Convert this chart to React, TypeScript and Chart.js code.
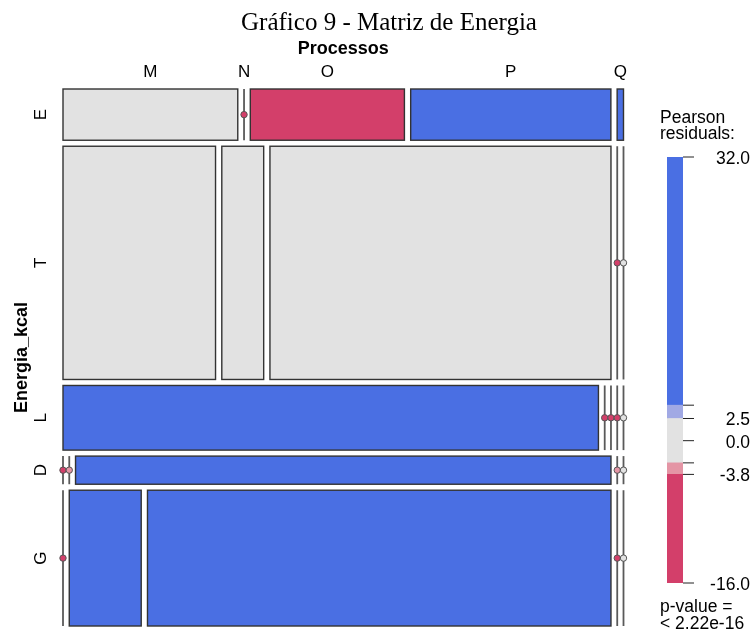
import { useEffect, useRef } from "react";
import { Chart, registerables } from "chart.js";

Chart.register(...registerables);

// Níveis das variáveis
const energyLevels = ["E", "T", "L", "D", "G"];
const processLevels = ["M", "N", "O", "P", "Q"];

// Contagens por nível de Energia_kcal, nas colunas M, N, O, P, Q
const countsE = [110, 0, 97, 126, 4];
const countsT = [437, 120, 977, 0, 0];
const countsL = [425, 0, 0, 0, 0];
const countsD = [0, 0, 185, 0, 0];
const countsG = [0, 120, 773, 0, 0];

// Limites de sombreamento dos resíduos de Pearson
const shadeBreaks = [-3.8, -2.5, 2.5, 4.0];
const legendTickValues = [4.0, 2.5, 0.0, -2.5, -3.8];
const legendTickLabels = ["", "2.5", "0.0", "", "-3.8"];
const pValueLines = ["p-value =", "< 2.22e-16"];

const titleText = "Gráfico 9 - Matriz de Energia";
const xTitle = "Processos";
const yTitle = "Energia_kcal";

const RED = "#D33F6A";
const PINK = "#E495A5";
const GRAY = "#E2E2E2";
const LIGHT_BLUE = "#A1A9E4";
const BLUE = "#4A6FE3";
const shadeColors = [RED, PINK, GRAY, LIGHT_BLUE, BLUE];

const SANS = "'Liberation Sans', Arial, sans-serif";
const SERIF = "'Liberation Serif', 'Times New Roman', serif";
const GAP = 0.0117;

const table = [countsE, countsT, countsL, countsD, countsG];
const total = table.reduce((s, r) => s + r.reduce((a, b) => a + b, 0), 0);
const rowTotals = table.map((r) => r.reduce((a, b) => a + b, 0));
const colTotals = processLevels.map((_, j) => table.reduce((s, r) => s + r[j], 0));
const residuals = table.map((r, i) =>
  r.map((o, j) => {
    const e = (rowTotals[i] * colTotals[j]) / total;
    return (o - e) / Math.sqrt(e);
  })
);
const flatRes = residuals.flat();
const maxRes = Math.max(...flatRes);
const minRes = Math.min(...flatRes);

function shade(r: number) {
  let k = 0;
  for (const b of shadeBreaks) if (r > b) k++;
  return shadeColors[k];
}

type Cell = { i: number; j: number; x0: number; x1: number; y0: number; y1: number; color: string };
const cells: Cell[] = [];
{
  let y = 0;
  table.forEach((row, i) => {
    const h = rowTotals[i] / total;
    let x = 0;
    row.forEach((c, j) => {
      const w = c / rowTotals[i];
      cells.push({ i, j, x0: x, x1: x + w, y0: y, y1: y + h, color: shade(residuals[i][j]) });
      x += w + GAP;
    });
    y += h + GAP;
  });
}
const xMax = 1 + GAP * (processLevels.length - 1);
const yMax = 1 + GAP * (energyLevels.length - 1);
const zeroCells = cells.filter((c) => c.x1 === c.x0);

function drawText(
  ctx: CanvasRenderingContext2D,
  text: string,
  x: number,
  y: number,
  font: string,
  align: CanvasTextAlign,
  rotate = 0
) {
  ctx.save();
  ctx.translate(x, y);
  if (rotate) ctx.rotate(rotate);
  ctx.font = font;
  ctx.fillStyle = "#000";
  ctx.textAlign = align;
  ctx.textBaseline = "middle";
  ctx.fillText(text, 0, 0);
  ctx.restore();
}

const mosaicPlugin = {
  id: "mosaicCells",
  beforeDatasetsDraw(chart: any) {
    const ctx: CanvasRenderingContext2D = chart.ctx;
    const xs = chart.scales.x;
    const ys = chart.scales.y;
    ctx.save();
    for (const c of cells) {
      const px0 = xs.getPixelForValue(c.x0);
      const px1 = xs.getPixelForValue(c.x1);
      const py0 = ys.getPixelForValue(c.y0);
      const py1 = ys.getPixelForValue(c.y1);
      if (c.x1 > c.x0) {
        ctx.fillStyle = c.color;
        ctx.fillRect(px0, py0, px1 - px0, py1 - py0);
        ctx.strokeStyle = "#333";
        ctx.lineWidth = 1.4;
        ctx.strokeRect(px0, py0, px1 - px0, py1 - py0);
      } else {
        ctx.strokeStyle = "#5a5a5a";
        ctx.lineWidth = 1.8;
        ctx.beginPath();
        ctx.moveTo(px0, py0);
        ctx.lineTo(px0, py1);
        ctx.stroke();
      }
    }
    ctx.restore();
  },
  afterDraw(chart: any) {
    const ctx: CanvasRenderingContext2D = chart.ctx;
    const xs = chart.scales.x;
    const ys = chart.scales.y;
    const area = chart.chartArea;
    drawText(ctx, titleText, 389, 23, `25px ${SERIF}`, "center");
    drawText(ctx, xTitle, (area.left + area.right) / 2, 49, `bold 18px ${SANS}`, "center");
    // rótulos das colunas sobre a primeira linha
    cells
      .filter((c) => c.i === 0)
      .forEach((c) => {
        const cx = xs.getPixelForValue((c.x0 + c.x1) / 2);
        drawText(ctx, processLevels[c.j], cx, 72, `17px ${SANS}`, "center");
      });
    // rótulos das linhas
    energyLevels.forEach((lab, i) => {
      const c = cells.find((k) => k.i === i)!;
      const cy = ys.getPixelForValue((c.y0 + c.y1) / 2);
      drawText(ctx, lab, 41, cy, `17px ${SANS}`, "center", -Math.PI / 2);
    });
    drawText(ctx, yTitle, 22, (area.top + area.bottom) / 2, `bold 18px ${SANS}`, "center", -Math.PI / 2);
  },
};

const legendPlugin = {
  id: "residualLegend",
  afterDraw(chart: any) {
    const ctx: CanvasRenderingContext2D = chart.ctx;
    const ys = chart.scales.y;
    const area = chart.chartArea;
    const ticks = [maxRes, ...legendTickValues, minRes];
    const labels = [maxRes.toFixed(1), ...legendTickLabels, minRes.toFixed(1)];
    ctx.save();
    ctx.strokeStyle = "#222";
    ctx.lineWidth = 1;
    ticks.forEach((v, k) => {
      const py = ys.getPixelForValue(v);
      ctx.beginPath();
      ctx.moveTo(area.right, py);
      ctx.lineTo(area.right + 11, py);
      ctx.stroke();
      if (labels[k]) drawText(ctx, labels[k], 750, py + 2, `17.5px ${SANS}`, "right");
    });
    ctx.restore();
    drawText(ctx, "Pearson", 660, 118, `17.5px ${SANS}`, "left");
    drawText(ctx, "residuals:", 660, 134, `17.5px ${SANS}`, "left");
    drawText(ctx, pValueLines[0], 660, 607, `17.5px ${SANS}`, "left");
    drawText(ctx, pValueLines[1], 660, 624, `17.5px ${SANS}`, "left");
  },
};

export default function App() {
  const mainRef = useRef<HTMLCanvasElement>(null);
  const legRef = useRef<HTMLCanvasElement>(null);

  useEffect(() => {
    document.body.style.margin = "0";
    const main = new Chart(mainRef.current!, {
      type: "scatter",
      data: {
        datasets: [
          {
            data: zeroCells.map((c) => ({ x: c.x0, y: (c.y0 + c.y1) / 2 })),
            pointBackgroundColor: zeroCells.map((c) => c.color),
            pointBorderColor: "#555",
            pointBorderWidth: 1,
            pointRadius: 3.2,
            clip: false,
          } as any,
        ],
      },
      options: {
        animation: false,
        responsive: false,
        devicePixelRatio: 1,
        layout: { padding: { left: 63, right: 129.5, top: 89, bottom: 6 } },
        scales: {
          x: { type: "linear", min: 0, max: xMax, display: false },
          y: { type: "linear", min: 0, max: yMax, reverse: true, display: false },
        },
        plugins: { legend: { display: false }, tooltip: { enabled: false } },
      },
      plugins: [mosaicPlugin],
    });

    const edges = [minRes, ...shadeBreaks, maxRes];
    const bandSets = shadeColors.map((col, k) => ({
      data: [[edges[k], edges[k + 1]]],
      backgroundColor: col,
      borderWidth: 0,
      grouped: false,
      barPercentage: 1,
      categoryPercentage: 1,
    }));
    const leg = new Chart(legRef.current!, {
      type: "bar",
      data: {
        labels: ["res"],
        datasets: [
          ...bandSets,
          {
            data: [[minRes, maxRes]],
            backgroundColor: "rgba(0,0,0,0)",
            borderColor: "#444",
            borderWidth: 1.2,
            borderSkipped: false,
            grouped: false,
            barPercentage: 1,
            categoryPercentage: 1,
          },
        ] as any,
      },
      options: {
        animation: false,
        responsive: false,
        devicePixelRatio: 1,
        layout: { padding: { left: 667, right: 70, top: 157, bottom: 49 } },
        scales: {
          x: { type: "category", display: false },
          y: { type: "linear", min: minRes, max: maxRes, display: false },
        },
        plugins: { legend: { display: false }, tooltip: { enabled: false } },
      },
      plugins: [legendPlugin],
    });

    return () => {
      main.destroy();
      leg.destroy();
    };
  }, []);

  return (
    <div style={{ position: "relative", width: 753, height: 632, background: "#fff" }}>
      <canvas ref={mainRef} width={753} height={632} style={{ position: "absolute", left: 0, top: 0 }} />
      <canvas ref={legRef} width={753} height={632} style={{ position: "absolute", left: 0, top: 0 }} />
    </div>
  );
}
